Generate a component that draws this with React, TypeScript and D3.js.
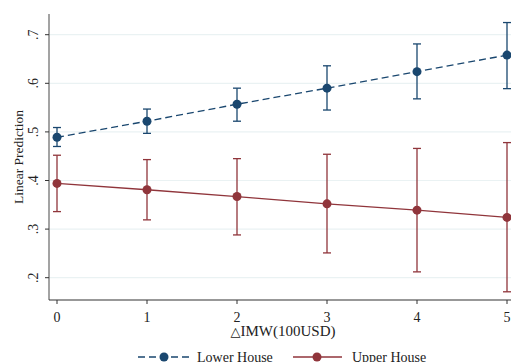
import React from "react";
import * as d3 from "d3";

const xValues = [0, 1, 2, 3, 4, 5];
const lowerFit = [0.489, 0.522, 0.557, 0.59, 0.624, 0.658];
const lowerLo = [0.47, 0.497, 0.522, 0.545, 0.568, 0.589];
const lowerHi = [0.509, 0.547, 0.59, 0.636, 0.681, 0.725];
const upperFit = [0.394, 0.381, 0.367, 0.352, 0.339, 0.324];
const upperLo = [0.336, 0.319, 0.288, 0.251, 0.212, 0.171];
const upperHi = [0.452, 0.443, 0.445, 0.454, 0.466, 0.478];
const yTicks = [0.2, 0.3, 0.4, 0.5, 0.6, 0.7];
const yTickLabels = [".2", ".3", ".4", ".5", ".6", ".7"];
const seriesNames = ["Lower House", "Upper House"];

const BLUE = "#1a476f";
const RED = "#90353b";
const FONT = "'Liberation Serif', 'Times New Roman', serif";

export default function App() {
  const x = d3.scaleLinear().domain([0, 5]).range([57, 507]);
  const y = d3.scaleLinear().domain([0.2, 0.7]).range([277.7, 34.7]);
  const axisLeft = 49;
  const axisBottom = 300;
  const axisTop = 14;

  const line = d3
    .line<number>()
    .x((_, i) => x(xValues[i]))
    .y((d) => y(d));

  const series = [
    { fit: lowerFit, lo: lowerLo, hi: lowerHi, color: BLUE, dash: "7,4" },
    { fit: upperFit, lo: upperLo, hi: upperHi, color: RED, dash: undefined },
  ];

  return (
    <svg
      width={511}
      height={362}
      style={{ position: "absolute", left: 0, top: 0, background: "#fff" }}
      fontFamily={FONT}
    >
      {yTicks.map((t) => (
        <line
          key={"g" + t}
          x1={axisLeft}
          x2={511}
          y1={y(t)}
          y2={y(t)}
          stroke="#eaf2f3"
          strokeWidth={1.2}
        />
      ))}
      {series.map((s, si) => (
        <g key={si}>
          {s.fit.map((_, i) => (
            <g key={i} stroke={s.color} strokeWidth={1.3}>
              <line x1={x(xValues[i])} x2={x(xValues[i])} y1={y(s.lo[i])} y2={y(s.hi[i])} />
              <line x1={x(xValues[i]) - 4} x2={x(xValues[i]) + 4} y1={y(s.lo[i])} y2={y(s.lo[i])} />
              <line x1={x(xValues[i]) - 4} x2={x(xValues[i]) + 4} y1={y(s.hi[i])} y2={y(s.hi[i])} />
            </g>
          ))}
          <path
            d={line(s.fit) || ""}
            fill="none"
            stroke={s.color}
            strokeWidth={1.3}
            strokeDasharray={s.dash}
          />
          {s.fit.map((v, i) => (
            <circle key={i} cx={x(xValues[i])} cy={y(v)} r={4.5} fill={s.color} />
          ))}
        </g>
      ))}
      <line x1={axisLeft} x2={axisLeft} y1={axisTop} y2={axisBottom} stroke="#666" strokeWidth={1.2} />
      <line x1={axisLeft} x2={511} y1={axisBottom} y2={axisBottom} stroke="#333" strokeWidth={1.2} />
      {yTicks.map((t, i) => (
        <g key={"yt" + t}>
          <line x1={axisLeft - 4} x2={axisLeft} y1={y(t)} y2={y(t)} stroke="#333" strokeWidth={1} />
          <text
            transform={`translate(38,${y(t)}) rotate(-90)`}
            textAnchor="middle"
            fontSize={14}
            fill="#222"
          >
            {yTickLabels[i]}
          </text>
        </g>
      ))}
      {xValues.map((v) => (
        <g key={"xt" + v}>
          <line x1={x(v)} x2={x(v)} y1={axisBottom} y2={axisBottom + 4} stroke="#333" strokeWidth={1} />
          <text x={x(v)} y={322} textAnchor="middle" fontSize={14} fill="#222">
            {v}
          </text>
        </g>
      ))}
      <text
        transform={`translate(23,157) rotate(-90)`}
        textAnchor="middle"
        fontSize={13.5}
        fill="#222"
      >
        Linear Prediction
      </text>
      <text x={283} y={336} textAnchor="middle" fontSize={15} fill="#222">
        <tspan fontFamily="'DejaVu Sans', sans-serif" fontSize={13}>△</tspan>
        IMW(100USD)
      </text>
      <g>
        <line x1={138} x2={190} y1={357} y2={357} stroke={BLUE} strokeWidth={1.3} strokeDasharray="7,4" />
        <circle cx={164} cy={357} r={4.5} fill={BLUE} />
        <text x={197} y={362} fontSize={14} fill="#222">
          {seriesNames[0]}
        </text>
        <line x1={293} x2={342} y1={357} y2={357} stroke={RED} strokeWidth={1.3} />
        <circle cx={317} cy={357} r={4.5} fill={RED} />
        <text x={352} y={362} fontSize={14} fill="#222">
          {seriesNames[1]}
        </text>
      </g>
    </svg>
  );
}
